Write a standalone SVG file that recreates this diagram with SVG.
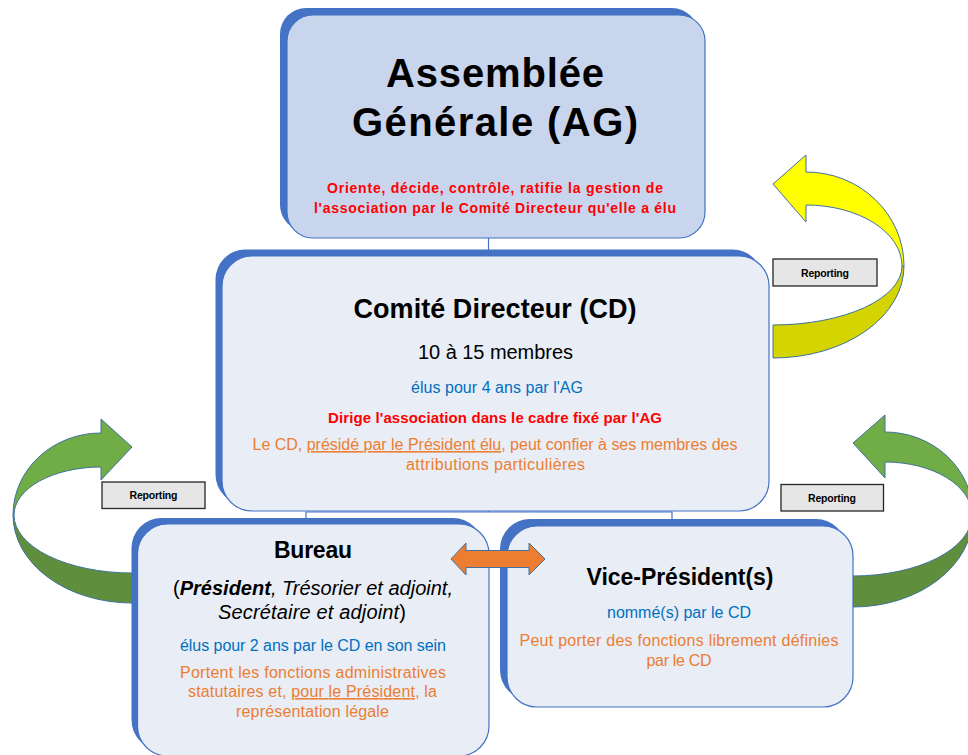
<svg xmlns="http://www.w3.org/2000/svg" width="968" height="755" viewBox="0 0 968 755">
<defs>
<style>
text{font-family:"Liberation Sans",Arial,sans-serif;text-anchor:middle}
.back{fill:#4472C4}
.front{stroke:#4472C4;stroke-width:1.2}
.ag{fill:#C9D5ED}
.lt{fill:#E8EDF6}
.conn{fill:none;stroke:#4472C4;stroke-width:1.2}
.arrow{stroke:#41719C;stroke-width:1}
.ylw{fill:#FFFF00}
.ylwd{fill:#D4D400}
.grn{fill:#70AD47}
.grnd{fill:#5F8F3C}
.rep rect{fill:#E6E6E6;stroke:#262626;stroke-width:1.3}
.rep text{font-weight:bold;font-size:10.5px;fill:#000}
.title{font-weight:bold;fill:#000}
.red{fill:#FF0000;font-weight:bold}
.blue{fill:#0070C0;font-size:16px}
.orange{fill:#ED7D31;font-size:16px}
</style>
</defs>
<rect width="968" height="755" fill="#FFFFFF"/>

<g id="connectors">
<line class="conn" x1="488.5" y1="236" x2="488.5" y2="252"/>
<polyline class="conn" points="306,520 306,512 672,512 672,521"/>
<line class="conn" x1="488.5" y1="508" x2="488.5" y2="512"/>
</g>

<g id="reporting-arrow-top">
<path class="arrow ylwd" d="M904,266 A131,92 0 0 1 773,358 L773,325 A129,59 0 0 0 902,266 Z"/>
<path class="arrow ylw" d="M806,172 A98,94 0 0 1 904,266 L902,266 A96,61 0 0 0 806,205 L806,222 L773,184 L806,155 Z"/>
</g>

<g id="reporting-arrow-left">
<path class="arrow grnd" d="M13,515 A119,88 0 0 0 132,603 L132,573 A118,58 0 0 1 14,515 Z"/>
<path class="arrow grn" d="M101,433 A88,82 0 0 0 13,515 L14,515 A87,48 0 0 1 101,467 L101,480 L132,447 L101,419 Z"/>
</g>

<g id="reporting-arrow-right">
<path class="arrow grnd" d="M973,515 A120,92 0 0 1 853,607 L853,576 A119,61 0 0 0 972,515 Z"/>
<path class="arrow grn" d="M885,432 A88,83 0 0 1 973,515 L972,515 A87,53 0 0 0 885,462 L885,478 L853,443 L885,415 Z"/>
</g>

<g id="ag">
<rect class="back" x="280" y="8" width="418" height="223" rx="26"/>
<rect class="front ag" x="287" y="15" width="418" height="223" rx="26"/>
<text class="title" x="495" y="87" font-size="40" textLength="218">Assemblée</text>
<text class="title" x="495" y="136" font-size="40" textLength="286">Générale (AG)</text>
<text class="red" x="495" y="193" font-size="14" textLength="336">Oriente, décide, contrôle, ratifie la gestion de</text>
<text class="red" x="495" y="213" font-size="14" textLength="362">l'association par le Comité Directeur qu'elle a élu</text>
</g>

<g id="cd">
<rect class="back" x="215.5" y="249.5" width="547" height="255" rx="30"/>
<rect class="front lt" x="222" y="256" width="547" height="255" rx="30"/>
<text class="title" x="495" y="318" font-size="27" textLength="283">Comité Directeur (CD)</text>
<text x="495.5" y="359" font-size="20" fill="#000" textLength="155">10 à 15 membres</text>
<text class="blue" x="497" y="393" textLength="172">élus pour 4 ans par l'AG</text>
<text class="red" x="495" y="423" font-size="15" textLength="334">Dirige l'association dans le cadre fixé par l'AG</text>
<text class="orange" x="495" y="450" textLength="485">Le CD, <tspan text-decoration="underline">présidé par le Président élu</tspan>, peut confier à ses membres des</text>
<text class="orange" x="495.5" y="470" textLength="179">attributions particulières</text>
</g>

<g id="bureau">
<rect class="back" x="131.5" y="518" width="351.5" height="232" rx="30"/>
<rect class="front lt" x="137.5" y="524" width="351.5" height="232" rx="30"/>
<text class="title" x="313" y="558" font-size="23" textLength="78">Bureau</text>
<text x="313" y="595" font-size="20" fill="#000" textLength="280">(<tspan font-weight="bold" font-style="italic">Président</tspan><tspan font-style="italic">, Trésorier et adjoint,</tspan></text>
<text x="312" y="619" font-size="20" fill="#000" textLength="188"><tspan font-style="italic">Secrétaire et adjoint</tspan>)</text>
<text class="blue" x="313" y="651" textLength="266">élus pour 2 ans par le CD en son sein</text>
<text class="orange" x="313" y="678" textLength="266">Portent les fonctions administratives</text>
<text class="orange" x="312.5" y="697" textLength="249">statutaires et, <tspan text-decoration="underline">pour le Président</tspan>, la</text>
<text class="orange" x="312.5" y="717" textLength="153">représentation légale</text>
</g>

<g id="vp">
<rect class="back" x="500" y="519" width="346" height="181" rx="30"/>
<rect class="front lt" x="507" y="526" width="346" height="181" rx="30"/>
<text class="title" x="680" y="585" font-size="23" textLength="187">Vice-Président(s)</text>
<text class="blue" x="679" y="618" textLength="144">nommé(s) par le CD</text>
<text class="orange" x="679" y="646" textLength="319">Peut porter des fonctions librement définies</text>
<text class="orange" x="679" y="666" textLength="65">par le CD</text>
</g>

<g id="bureau-vp-link">
<polygon fill="#ED7D31" stroke="#41719C" stroke-width="1" points="451,559 466,543 466,550.5 529,550.5 529,543 545,559 529,575 529,567.5 466,567.5 466,575"/>
</g>

<g id="label-reporting-top" class="rep">
<rect x="773" y="259" width="104" height="27"/>
<text x="825" y="276.5" textLength="48">Reporting</text>
</g>
<g id="label-reporting-left" class="rep">
<rect x="102" y="482" width="103" height="26.5"/>
<text x="153.5" y="499" textLength="48">Reporting</text>
</g>
<g id="label-reporting-right" class="rep">
<rect x="781" y="484.5" width="102.5" height="26.5"/>
<text x="832" y="501.5" textLength="48">Reporting</text>
</g>
</svg>
